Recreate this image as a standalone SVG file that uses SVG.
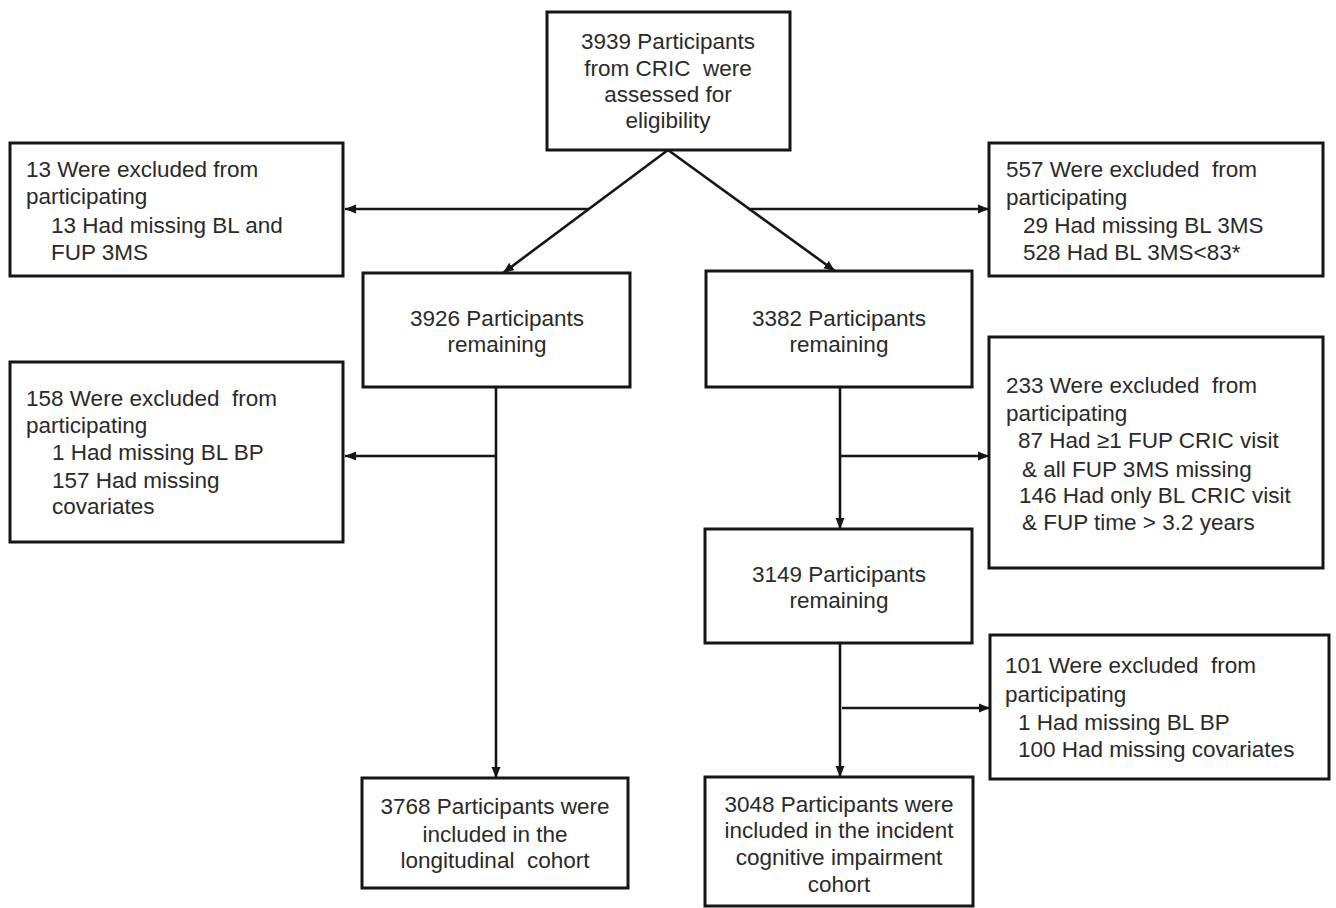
<svg xmlns="http://www.w3.org/2000/svg" width="1336" height="908" viewBox="0 0 1336 908">
<defs>
<style>
.box{fill:#fff;stroke:#161616;stroke-width:3}
.t{font-family:"Liberation Sans",Arial,sans-serif;font-size:22.5px;fill:#2a2a2a;white-space:pre}
.c{text-anchor:middle}
.ln{stroke:#161616;stroke-width:2.6;fill:none;marker-end:url(#ah)}
</style>
<marker id="ah" markerUnits="userSpaceOnUse" markerWidth="12" markerHeight="10" refX="11" refY="5" orient="auto">
<path d="M0,0.5 L11,5 L0,9.5 z" fill="#161616"/>
</marker>
</defs>
<rect width="1336" height="908" fill="#fff"/>
<g id="connectors">
<line class="ln" x1="668" y1="150" x2="503" y2="273"/>
<line class="ln" x1="668" y1="150" x2="835" y2="271"/>
<line class="ln" x1="589" y1="209" x2="345" y2="209"/>
<line class="ln" x1="748" y1="209" x2="989" y2="209"/>
<line class="ln" x1="496" y1="387" x2="496" y2="778"/>
<line class="ln" x1="496" y1="456" x2="345" y2="456"/>
<line class="ln" x1="840" y1="387" x2="840" y2="529"/>
<line class="ln" x1="840" y1="456" x2="989" y2="456"/>
<line class="ln" x1="840" y1="643" x2="840" y2="777"/>
<line class="ln" x1="842" y1="708" x2="990" y2="708"/>
</g>
<g id="n_start">
<rect class="box" x="547" y="12" width="243" height="138"/>
<text class="t c" x="668" y="49">3939 Participants</text>
<text class="t c" x="668" y="76">from CRIC  were</text>
<text class="t c" x="668" y="102">assessed for</text>
<text class="t c" x="668" y="128">eligibility</text>
</g>
<g id="n_excl13">
<rect class="box" x="10" y="143" width="333" height="133"/>
<text class="t" x="26" y="177">13 Were excluded from</text>
<text class="t" x="26" y="204">participating</text>
<text class="t" x="51" y="233">13 Had missing BL and</text>
<text class="t" x="51" y="260">FUP 3MS</text>
</g>
<g id="n_excl557">
<rect class="box" x="989" y="143" width="334" height="133"/>
<text class="t" x="1006" y="177">557 Were excluded  from</text>
<text class="t" x="1006" y="205">participating</text>
<text class="t" x="1023" y="233">29 Had missing BL 3MS</text>
<text class="t" x="1023" y="260">528 Had BL 3MS&lt;83*</text>
</g>
<g id="n_3926">
<rect class="box" x="363" y="273" width="267" height="114"/>
<text class="t c" x="497" y="326">3926 Participants</text>
<text class="t c" x="497" y="352">remaining</text>
</g>
<g id="n_3382">
<rect class="box" x="706" y="271" width="266" height="116"/>
<text class="t c" x="839" y="326">3382 Participants</text>
<text class="t c" x="839" y="352">remaining</text>
</g>
<g id="n_excl158">
<rect class="box" x="10" y="362" width="333" height="180"/>
<text class="t" x="26" y="406">158 Were excluded  from</text>
<text class="t" x="26" y="433">participating</text>
<text class="t" x="52" y="460">1 Had missing BL BP</text>
<text class="t" x="52" y="488">157 Had missing</text>
<text class="t" x="52" y="514">covariates</text>
</g>
<g id="n_excl233">
<rect class="box" x="989" y="337" width="334" height="231"/>
<text class="t" x="1006" y="393">233 Were excluded  from</text>
<text class="t" x="1006" y="421">participating</text>
<text class="t" x="1018" y="448">87 Had ≥1 FUP CRIC visit</text>
<text class="t" x="1022" y="477">&amp; all FUP 3MS missing</text>
<text class="t" x="1019" y="503">146 Had only BL CRIC visit</text>
<text class="t" x="1022" y="530">&amp; FUP time &gt; 3.2 years</text>
</g>
<g id="n_3149">
<rect class="box" x="705" y="529" width="267" height="114"/>
<text class="t c" x="839" y="582">3149 Participants</text>
<text class="t c" x="839" y="608">remaining</text>
</g>
<g id="n_excl101">
<rect class="box" x="990" y="635" width="339" height="144"/>
<text class="t" x="1005" y="673">101 Were excluded  from</text>
<text class="t" x="1005" y="702">participating</text>
<text class="t" x="1018" y="730">1 Had missing BL BP</text>
<text class="t" x="1018" y="757">100 Had missing covariates</text>
</g>
<g id="n_3768">
<rect class="box" x="362" y="778" width="266" height="110"/>
<text class="t c" x="495" y="814">3768 Participants were</text>
<text class="t c" x="495" y="842">included in the</text>
<text class="t c" x="495" y="868">longitudinal  cohort</text>
</g>
<g id="n_3048">
<rect class="box" x="705" y="777" width="268" height="129"/>
<text class="t c" x="839" y="812">3048 Participants were</text>
<text class="t c" x="839" y="838">included in the incident</text>
<text class="t c" x="839" y="865">cognitive impairment</text>
<text class="t c" x="839" y="892">cohort</text>
</g>
</svg>
